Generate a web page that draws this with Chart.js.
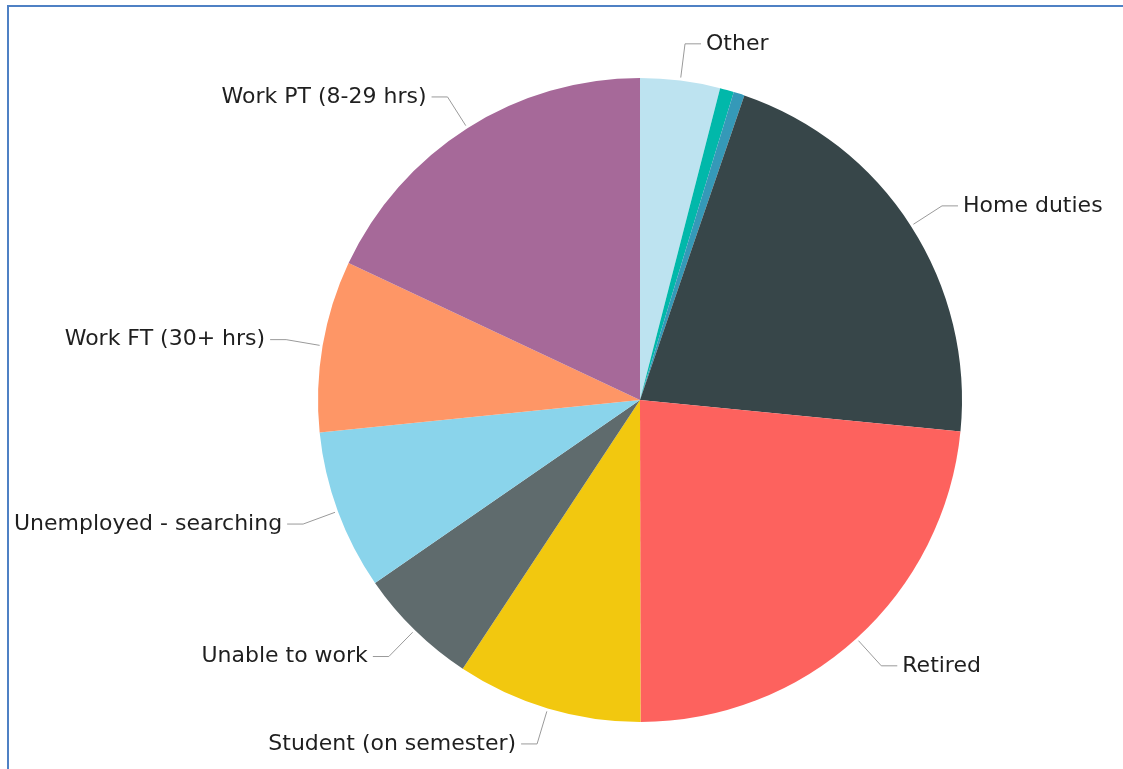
<!DOCTYPE html>
<html>
<head>
<meta charset="utf-8">
<script src="https://cdn.jsdelivr.net/npm/chart.js@4"></script>
<style>
  html, body { margin: 0; padding: 0; background: #fff; }
  #wrap { position: relative; width: 1123px; height: 769px; overflow: hidden; }
  #frame { position: absolute; left: 7px; top: 5px; width: 1200px; height: 900px;
           border-left: 2px solid #4f81c4; border-top: 2px solid #4f81c4; }
  #chart1 { position: absolute; left: 0; top: 0; }
</style>
</head>
<body>
<div id="wrap">
  <div id="frame"></div>
  <canvas id="chart1" width="1123" height="769"></canvas>
</div>
<script>
// slice order clockwise from 12 o'clock
var labels = ['Other', '', '', 'Home duties', 'Retired', 'Student (on semester)',
              'Unable to work', 'Unemployed - searching', 'Work FT (30+ hrs)', 'Work PT (8-29 hrs)'];
var shares = [4.0, 0.7, 0.55, 21.3, 23.4, 9.3, 6.1, 8.0, 8.6, 18.0];
var colors = ['#bde3f0', '#01b8aa', '#3599b8', '#374649', '#fd625e', '#f2c80f',
              '#5f6b6d', '#8ad4eb', '#fe9666', '#a66999'];

// leader lines + outside labels, Power BI style
var outsideLabels = {
  id: 'outsideLabels',
  afterDraw: function(chart) {
    var ctx = chart.ctx;
    var arcs = chart.getDatasetMeta(0).data;
    ctx.save();
    ctx.font = '22px "DejaVu Sans"';
    ctx.textBaseline = 'middle';
    arcs.forEach(function(arc, i) {
      if (!labels[i]) return;
      var mid = (arc.startAngle + arc.endAngle) / 2;
      var r = arc.outerRadius;
      var x0 = arc.x + Math.cos(mid) * (r + 3);
      var y0 = arc.y + Math.sin(mid) * (r + 3);
      var x1 = arc.x + Math.cos(mid) * (r + 37);
      var y1 = arc.y + Math.sin(mid) * (r + 37);
      var right = Math.cos(mid) >= 0;
      var x2 = x1 + (right ? 16 : -16);
      ctx.strokeStyle = '#9a9a9a';
      ctx.lineWidth = 1;
      ctx.beginPath();
      ctx.moveTo(x0, y0);
      ctx.lineTo(x1, y1);
      ctx.lineTo(x2, y1);
      ctx.stroke();
      ctx.fillStyle = '#1f1f1f';
      ctx.textAlign = right ? 'left' : 'right';
      ctx.fillText(labels[i], x2 + (right ? 5 : -5), y1);
    });
    ctx.restore();
  }
};

new Chart(document.getElementById('chart1'), {
  type: 'pie',
  data: {
    labels: labels,
    datasets: [{
      data: shares,
      backgroundColor: colors,
      borderWidth: 0
    }]
  },
  options: {
    responsive: false,
    animation: false,
    layout: { padding: { left: 318, right: 161, top: 78, bottom: 47 } },
    plugins: {
      legend: { display: false },
      tooltip: { enabled: false }
    }
  },
  plugins: [outsideLabels]
});
</script>
</body>
</html>
